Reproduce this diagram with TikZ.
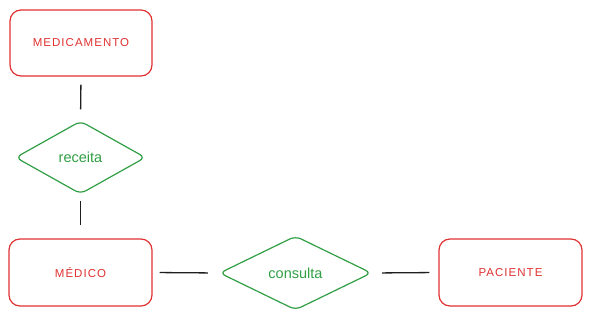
\documentclass[tikz,border=0pt]{standalone}
\usepackage{fontspec}
\setmainfont{Liberation Sans}
\newfontfamily\capsfont[LetterSpace=9]{Liberation Sans}
\usetikzlibrary{shapes.geometric}
\definecolor{exred}{HTML}{E03131}
\definecolor{exgreen}{HTML}{2F9E44}
\definecolor{exink}{HTML}{1E1E1E}
\tikzset{
  entity/.style={draw=exred, line width=1.2pt, rounded corners=11pt, minimum width=142pt, minimum height=66pt, inner sep=0pt, text=exred, font=\capsfont\fontsize{11.5}{13}\selectfont},
  relation/.style={diamond, draw=exgreen, line width=1.2pt, rounded corners=6pt, inner sep=0pt, text=exgreen, font=\fontsize{14.5}{16}\selectfont},
  link/.style={draw=exink, line width=1.3pt}
}
\begin{document}
\begin{tikzpicture}[x=1pt,y=-1pt]
\useasboundingbox (0,0) rectangle (592,321);
\node[entity] (med) at (81,43) {MEDICAMENTO};
\node[relation, minimum width=130pt, minimum height=73pt] (rec) at (80.5,157.5) {receita};
\node[entity, minimum width=143pt, minimum height=67pt] (doc) at (80.5,272.5) {MÉDICO};
\node[relation, minimum width=152pt, minimum height=74pt] (con) at (295.5,273) {consulta};
\node[entity, minimum width=143pt, minimum height=67pt] (pac) at (510.5,272.5) {PACIENTE};
\draw[link, shorten <=8pt, shorten >=11pt] (med.south) -- (rec.north);
\draw[link, shorten <=6pt, shorten >=13pt] (rec.south) -- (doc.north);
\draw[link, shorten <=7pt, shorten >=11pt] (doc.east) -- (con.west);
\draw[link, shorten <=10pt, shorten >=9pt] (con.east) -- (pac.west);
\end{tikzpicture}
\end{document}
